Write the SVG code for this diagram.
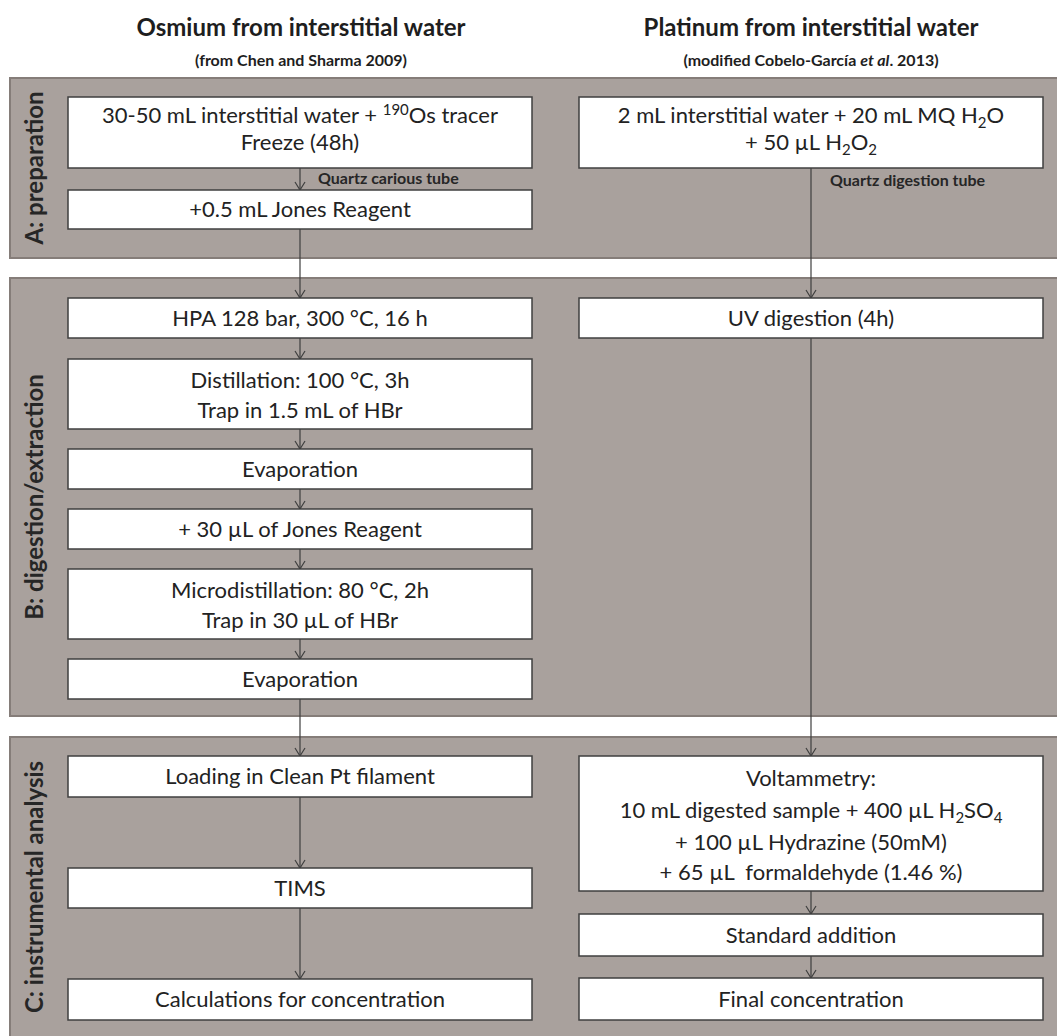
<svg xmlns="http://www.w3.org/2000/svg" width="1057" height="1036" viewBox="0 0 1057 1036">
  <style>
    .panel { fill: #a9a19d; stroke: #857d79; stroke-width: 2; }
    .box { fill: #ffffff; stroke: #3f3f3f; stroke-width: 1.5; }
    .t { font-family: Lato, "Liberation Sans", sans-serif; font-size: 22px; fill: #222222; text-anchor: middle; }
    .sm { font-size: 15px; }
    .hd { font-family: Lato, "Liberation Sans", sans-serif; font-weight: bold; font-size: 24px; fill: #1e1e1e; text-anchor: middle; }
    .sub { font-family: Lato, "Liberation Sans", sans-serif; font-weight: bold; font-size: 16px; fill: #1e1e1e; text-anchor: middle; }
    .lbl { font-family: Lato, "Liberation Sans", sans-serif; font-weight: bold; font-size: 24px; fill: #262626; text-anchor: middle; }
    .note { font-family: Lato, "Liberation Sans", sans-serif; font-weight: bold; font-size: 16px; fill: #262626; }
    .conn line { stroke: #3f3f3f; stroke-width: 1.2; marker-end: url(#arr); }
  </style>
  <defs>
    <!-- open V arrowhead pointing along the line -->
    <marker id="arr" viewBox="-10 -7 11 14" markerWidth="11" markerHeight="14" refX="0" refY="0" orient="auto" markerUnits="userSpaceOnUse">
      <path d="M-8,-5 L0,0 L-8,5" fill="none" stroke="#3f3f3f" stroke-width="1.2"/>
    </marker>
  </defs>

  <rect width="1057" height="1036" fill="#ffffff"/>

  <!-- column headings -->
  <g id="head-os">
    <text class="hd" x="301" y="36">Osmium from interstitial water</text>
    <text class="sub" x="301" y="66">(from Chen and Sharma 2009)</text>
  </g>
  <g id="head-pt">
    <text class="hd" x="811" y="36">Platinum from interstitial water</text>
    <text class="sub" x="811" y="66">(modified Cobelo-García <tspan font-style="italic">et al</tspan>. 2013)</text>
  </g>

  <!-- stage panels -->
  <g id="panel-a">
    <rect class="panel" x="10" y="78" width="1060" height="180"/>
    <text class="lbl" transform="translate(43,168) rotate(-90)">A: preparation</text>
  </g>
  <g id="panel-b">
    <rect class="panel" x="10" y="278" width="1060" height="438"/>
    <text class="lbl" transform="translate(43,497) rotate(-90)">B: digestion/extraction</text>
  </g>
  <g id="panel-c">
    <rect class="panel" x="10" y="737" width="1060" height="310"/>
    <text class="lbl" transform="translate(43,887) rotate(-90)">C: instrumental analysis</text>
  </g>

  <!-- connectors -->
  <g id="connectors" class="conn">
    <line x1="300" y1="168" x2="300" y2="190"/>
    <line x1="300" y1="229" x2="300" y2="298"/>
    <line x1="300" y1="338" x2="300" y2="359"/>
    <line x1="300" y1="429" x2="300" y2="449"/>
    <line x1="300" y1="489" x2="300" y2="509"/>
    <line x1="300" y1="549" x2="300" y2="569"/>
    <line x1="300" y1="639" x2="300" y2="659"/>
    <line x1="300" y1="699" x2="300" y2="756"/>
    <line x1="300" y1="797" x2="300" y2="868"/>
    <line x1="300" y1="908" x2="300" y2="979"/>
    <line x1="811" y1="168" x2="811" y2="298"/>
    <line x1="811" y1="338" x2="811" y2="756"/>
    <line x1="811" y1="891" x2="811" y2="914"/>
    <line x1="811" y1="956" x2="811" y2="978"/>
    <text class="note" x="318" y="184">Quartz carious tube</text>
    <text class="note" x="830" y="186">Quartz digestion tube</text>
  </g>

  <!-- osmium column -->
  <g id="os-spike">
    <rect class="box" x="68" y="97" width="464" height="71"/>
    <text class="t" x="300" y="123">30-50 mL interstitial water + <tspan class="sm" dy="-8">190</tspan><tspan dy="8">Os tracer</tspan></text>
    <text class="t" x="300" y="150">Freeze (48h)</text>
  </g>
  <g id="os-jones">
    <rect class="box" x="68" y="190" width="464" height="39"/>
    <text class="t" x="300" y="217">+0.5 mL Jones Reagent</text>
  </g>
  <g id="os-hpa">
    <rect class="box" x="68" y="298" width="464" height="40"/>
    <text class="t" x="300" y="326">HPA 128 bar, 300 °C, 16 h</text>
  </g>
  <g id="os-distil">
    <rect class="box" x="68" y="359" width="464" height="70"/>
    <text class="t" x="300" y="388">Distillation: 100 °C, 3h</text>
    <text class="t" x="300" y="418">Trap in 1.5 mL of HBr</text>
  </g>
  <g id="os-evap1">
    <rect class="box" x="68" y="449" width="464" height="40"/>
    <text class="t" x="300" y="477">Evaporation</text>
  </g>
  <g id="os-jones2">
    <rect class="box" x="68" y="509" width="464" height="40"/>
    <text class="t" x="300" y="537">+ 30 µL of Jones Reagent</text>
  </g>
  <g id="os-micro">
    <rect class="box" x="68" y="569" width="464" height="70"/>
    <text class="t" x="300" y="598">Microdistillation: 80 °C, 2h</text>
    <text class="t" x="300" y="628">Trap in 30 µL of HBr</text>
  </g>
  <g id="os-evap2">
    <rect class="box" x="68" y="659" width="464" height="40"/>
    <text class="t" x="300" y="687">Evaporation</text>
  </g>
  <g id="os-load">
    <rect class="box" x="68" y="756" width="464" height="41"/>
    <text class="t" x="300" y="784">Loading in Clean Pt filament</text>
  </g>
  <g id="os-tims">
    <rect class="box" x="68" y="868" width="464" height="40"/>
    <text class="t" x="300" y="896">TIMS</text>
  </g>
  <g id="os-calc">
    <rect class="box" x="68" y="979" width="464" height="41"/>
    <text class="t" x="300" y="1007">Calculations for concentration</text>
  </g>

  <!-- platinum column -->
  <g id="pt-sample">
    <rect class="box" x="579" y="97" width="464" height="71"/>
    <text class="t" x="811" y="123">2 mL interstitial water + 20 mL MQ H<tspan class="sm" dy="5">2</tspan><tspan dy="-5">O</tspan></text>
    <text class="t" x="811" y="150">+ 50 µL H<tspan class="sm" dy="5">2</tspan><tspan dy="-5">O</tspan><tspan class="sm" dy="5">2</tspan></text>
  </g>
  <g id="pt-uv">
    <rect class="box" x="579" y="298" width="464" height="40"/>
    <text class="t" x="811" y="326">UV digestion (4h)</text>
  </g>
  <g id="pt-volt">
    <rect class="box" x="579" y="756" width="464" height="135"/>
    <text class="t" x="811" y="786">Voltammetry:</text>
    <text class="t" x="811" y="818">10 mL digested sample + 400 µL H<tspan class="sm" dy="5">2</tspan><tspan dy="-5">SO</tspan><tspan class="sm" dy="5">4</tspan></text>
    <text class="t" x="811" y="850">+ 100 µL Hydrazine (50mM)</text>
    <text class="t" x="811" y="880">+ 65 µL&#160; formaldehyde (1.46 %)</text>
  </g>
  <g id="pt-std">
    <rect class="box" x="579" y="914" width="464" height="42"/>
    <text class="t" x="811" y="943">Standard addition</text>
  </g>
  <g id="pt-final">
    <rect class="box" x="579" y="978" width="464" height="42"/>
    <text class="t" x="811" y="1007">Final concentration</text>
  </g>
</svg>
